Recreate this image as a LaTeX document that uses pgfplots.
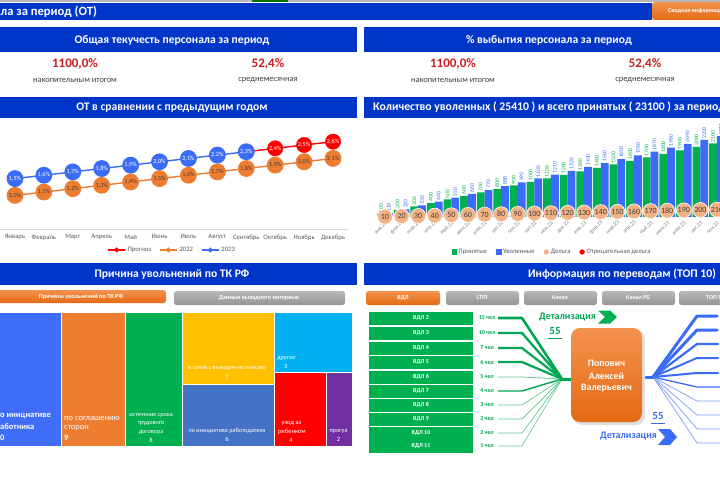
\documentclass[border=0pt]{standalone}
\usepackage{pgfplots}
\pgfplotsset{compat=1.18}
\usepackage{fontspec}
\setmainfont{Carlito}
\newcommand\fs[1]{\fontsize{#1}{#1}\selectfont}
\definecolor{hdrblue}{HTML}{0036C8}
\definecolor{cblue}{HTML}{3B6CF8}
\definecolor{cbluel}{HTML}{7D9BFA}
\definecolor{corange}{HTML}{ED7D31}
\definecolor{cred}{HTML}{FF0000}
\definecolor{cgreen}{HTML}{00B050}
\definecolor{cgreenD}{HTML}{00A651}
\definecolor{cgreenL}{HTML}{5CCB8F}
\definecolor{cpeach}{HTML}{F4B183}
\definecolor{valred}{HTML}{C81E1E}
\definecolor{tmblue}{HTML}{3F6DF7}
\definecolor{tmsteel}{HTML}{4472C4}
\definecolor{tmyellow}{HTML}{FFC000}
\definecolor{tmlblue}{HTML}{00B0F0}
\definecolor{tmpurple}{HTML}{7030A0}
\definecolor{txtgray}{HTML}{595959}
\definecolor{txtdark}{HTML}{404040}
\definecolor{orT}{HTML}{F4924E}
\definecolor{orB}{HTML}{E46A12}
\definecolor{grT}{HTML}{B8B8B8}
\definecolor{grB}{HTML}{959595}
\begin{document}
\begin{tikzpicture}[x=1pt,y=1pt]
\begin{scope}
\clip (0,0) rectangle (720,480);
\fill[white] (0,0) rectangle (720,480);
% ---------- shaded buttons (unflipped coordinates) ----------
\shade[top color=orT, bottom color=orB, rounded corners=3pt] (652,460) rectangle (740,478);
\shade[top color=orT, bottom color=orB, rounded corners=2.5pt] (-6,177) rectangle (166,190);
\shade[top color=grT, bottom color=grB, rounded corners=2.5pt] (174,175) rectangle (345,189);
\shade[top color=orT, bottom color=orB, rounded corners=2.5pt] (366,175) rectangle (440,189);
\shade[top color=grT, bottom color=grB, rounded corners=2.5pt] (446,175) rectangle (519,189);
\shade[top color=grT, bottom color=grB, rounded corners=2.5pt] (524,175) rectangle (597,189);
\shade[top color=grT, bottom color=grB, rounded corners=2.5pt] (602,175) rectangle (675,189);
\shade[top color=grT, bottom color=grB, rounded corners=2.5pt] (679,175) rectangle (740,189);
\begin{scope}[yshift=480pt,yscale=-1]
 \fill[gray!55] (0,0) rectangle (720,2.5);
 \fill[green!45!black] (252,0) rectangle (288,2.5);
 \fill[hdrblue] (0,3) rectangle (652,20);
 \node[anchor=west,text=white,font=\bfseries\fs{12.6},inner sep=0] at (0.5,11.5) {ла за период (ОТ)};
 \node[anchor=west,text=white,font=\bfseries\fs{6},inner sep=0] at (668,11) {Сводная информация};
 \fill[hdrblue] (0,27) rectangle (357,52);
 \fill[hdrblue] (364,27) rectangle (720,52);
 \node[text=white,font=\bfseries\fs{11.6}] at (172,40) {Общая текучесть персонала за период};
 \node[text=white,font=\bfseries\fs{11.6}] at (549,40) {\% выбытия персонала за период};
 \node[text=valred,font=\bfseries\fs{13}] at (75,64) {1100,0\%};
 \node[text=txtdark,font=\fs{8.4}] at (75,80) {накопительным итогом};
 \node[text=valred,font=\bfseries\fs{13}] at (268,64) {52,4\%};
 \node[text=txtdark,font=\fs{8.4}] at (268,80) {среднемесячная};
 \node[text=valred,font=\bfseries\fs{13}] at (453,64) {1100,0\%};
 \node[text=txtdark,font=\fs{8.4}] at (453,80) {накопительным итогом};
 \node[text=valred,font=\bfseries\fs{13}] at (645,64) {52,4\%};
 \node[text=txtdark,font=\fs{8.4}] at (645,80) {среднемесячная};
 \fill[hdrblue] (0,97) rectangle (357,118);
 \fill[hdrblue] (364,97) rectangle (720,118);
 \node[text=white,font=\bfseries\fs{11.6}] at (172,107.5) {ОТ в сравнении с предыдущим годом};
 \node[anchor=west,text=white,font=\bfseries\fs{11.7},inner sep=0] at (373,107.5) {Количество уволенных ( 25410 ) и всего принятых ( 23100 ) за период};
 \fill[hdrblue] (0,263) rectangle (357,285);
 \fill[hdrblue] (364,263) rectangle (720,285);
 \node[text=white,font=\bfseries\fs{11.6}] at (172,274) {Причина увольнений по ТК РФ};
 \node[text=white,font=\bfseries\fs{11.7}] at (622,274) {Информация по переводам (ТОП 10)};
 \node[text=white,font=\bfseries\fs{6.2}] at (81,296.5) {Причины увольнений по ТК РФ};
 \node[text=white,font=\bfseries\fs{6.2}] at (259,298) {Данные выходного интервью};
 \node[text=white,font=\bfseries\fs{6}] at (403,298) {ВДЛ};
 \node[text=white,font=\bfseries\fs{6}] at (482,298) {СПП};
 \node[text=white,font=\bfseries\fs{6}] at (560,298) {Канал};
 \node[text=white,font=\bfseries\fs{6}] at (638,298) {Канал РБ};
 \node[anchor=west,text=white,font=\bfseries\fs{6},inner sep=0] at (706,298) {ТОП 10};
 \foreach \yy/\nm/\vv in {318/2/15,333/3/10,348/4/7,362/5/6,377/6/5,391/7/4,405/8/3,419/9/2,433/10/2,446/11/1}{
   \fill[cgreen] (369,\yy-6.5) rectangle (473,\yy+6.5);
   \node[text=white,font=\bfseries\fs{6}] at (421,\yy) {ВДЛ \nm};
   \node[text=cgreenD,font=\bfseries\fs{6}] at (487,\yy) {\vv\ чел};
 }
\end{scope}
% ---------- line chart ----------
\begin{axis}[at={(0.5pt,251pt)}, anchor=south west, scale only axis, width=347pt, height=100.8pt,
 xmin=-0.5, xmax=11.5, ymin=0, ymax=3,
 axis x line*=bottom, axis y line=none,
 x axis line style={draw=black!15, line width=0.7pt, -},
 xtick={0,...,11},
 xticklabels={Январь,Февраль,Март,Апрель,Май,Июнь,Июль,Август,Сентябрь,Октябрь,Ноябрь,Декабрь},
 major tick length=0pt,
 xticklabel style={font=\fs{6.7}, text=txtgray, yshift=-2pt},
 clip=false,
 legend style={at={(0.495,-0.208)}, anchor=center, draw=none, fill=none, font=\fs{6.7}, text=txtgray, legend columns=-1, /tikz/every even column/.append style={column sep=6pt}},
 legend cell align=left]
\addplot[cred, line width=1.4pt, forget plot] coordinates {(8,2.3) (9,2.4) (10,2.5) (11,2.6)};
\addplot[cred, only marks, mark=*, mark size=7.7pt, mark options={draw=none, fill=cred}, forget plot,
 nodes near coords, point meta=explicit symbolic,
 every node near coord/.append style={anchor=center, text=white, font=\fs{6.2}}]
 coordinates {(9,2.4) [2,4\%] (10,2.5) [2,5\%] (11,2.6) [2,6\%]};
\addplot[corange, line width=1.4pt, mark=*, mark size=7.7pt, mark options={draw=none, fill=corange}, forget plot,
 nodes near coords, point meta=explicit symbolic,
 every node near coord/.append style={anchor=center, text=txtdark, font=\fs{6.2}}]
 coordinates {(0,1.0) [1,0\%] (1,1.1) [1,1\%] (2,1.2) [1,2\%] (3,1.3) [1,3\%] (4,1.4) [1,4\%] (5,1.5) [1,5\%] (6,1.6) [1,6\%] (7,1.7) [1,7\%] (8,1.8) [1,8\%] (9,1.9) [1,9\%] (10,2.0) [2,0\%] (11,2.1) [2,1\%]};
\addplot[cblue, line width=1.4pt, mark=*, mark size=7.7pt, mark options={draw=none, fill=cblue}, forget plot,
 nodes near coords, point meta=explicit symbolic,
 every node near coord/.append style={anchor=center, text=white, font=\fs{6.2}}]
 coordinates {(0,1.5) [1,5\%] (1,1.6) [1,6\%] (2,1.7) [1,7\%] (3,1.8) [1,8\%] (4,1.9) [1,9\%] (5,2.0) [2,0\%] (6,2.1) [2,1\%] (7,2.2) [2,2\%] (8,2.3) [2,3\%]};
\addlegendimage{cred, line width=1.2pt, mark=*, mark size=1.8pt}
\addlegendentry{Прогноз}
\addlegendimage{corange, line width=1.2pt, mark=*, mark size=1.8pt}
\addlegendentry{2022}
\addlegendimage{cblue, line width=1.2pt, mark=*, mark size=1.8pt}
\addlegendentry{2023}
\end{axis}
% ---------- bar chart ----------
\begin{axis}[at={(371.7pt,263pt)}, anchor=south west, scale only axis, width=358.56pt, height=98pt,
 xmin=-0.8, xmax=20.8, ymin=0, ymax=2800,
 ybar=0pt, bar width=7.8pt,
 axis x line*=bottom, axis y line=none, x axis line style={draw=none},
 xtick={0,...,20},
 xticklabels={янв.22,фев.22,мар.22,апр.22,май.22,июн.22,июл.22,авг.22,сен.22,окт.22,ноя.22,дек.22,янв.23,фев.23,мар.23,апр.23,май.23,июн.23,июл.23,авг.23,сен.23},
 major tick length=0pt,
 xticklabel style={font=\fs{5.6}, text=gray, xshift=2pt, yshift=-4pt, rotate=45, anchor=east, inner sep=1pt},
 clip=false,
 nodes near coords,
 every node near coord/.append style={rotate=90, anchor=west, font=\fs{5.6}, inner sep=1.2pt},
 /pgf/number format/assume math mode=true, /pgf/number format/1000 sep={}]
\addplot[fill=cgreen, draw=none, every node near coord/.append style={text=cgreen}] coordinates {
 (0,100) (1,200) (2,300) (3,400) (4,500) (5,600) (6,700) (7,800) (8,900) (9,1000) (10,1100)
 (11,1200) (12,1300) (13,1400) (14,1500) (15,1600) (16,1700) (17,1800) (18,1900) (19,2000) (20,2100)};
\addplot[fill=cblue, draw=none, every node near coord/.append style={text=cblue}] coordinates {
 (0,110) (1,220) (2,330) (3,440) (4,550) (5,660) (6,770) (7,880) (8,990) (9,1100) (10,1210)
 (11,1320) (12,1430) (13,1540) (14,1650) (15,1760) (16,1870) (17,1980) (18,2090) (19,2200) (20,2310)};
\end{axis}
\begin{axis}[at={(371.7pt,263pt)}, anchor=south west, scale only axis, width=358.56pt, height=98pt,
 xmin=-0.8, xmax=20.8, ymin=0, ymax=2800, hide axis, clip=false,
 legend style={at={(0.503,-0.357)}, anchor=center, draw=none, fill=none, font=\fs{6.7}, text=txtgray, legend columns=-1, /tikz/every even column/.append style={column sep=7pt}},
 legend cell align=left,
 /pgf/number format/assume math mode=true]
\addplot[only marks, mark=*, mark size=7.5pt, mark options={fill=cpeach, draw=white, line width=0.6pt}, forget plot,
 nodes near coords, every node near coord/.append style={anchor=center, font=\fs{8}, text=txtdark}] coordinates {
 (0,10) (1,20) (2,30) (3,40) (4,50) (5,60) (6,70) (7,80) (8,90) (9,100) (10,110)
 (11,120) (12,130) (13,140) (14,150) (15,160) (16,170) (17,180) (18,190) (19,200) (20,210)};
\addlegendimage{legend image code/.code={\fill[cgreen] (0pt,-2.3pt) rectangle (4.6pt,2.3pt);}}
\addlegendentry{Принятые}
\addlegendimage{legend image code/.code={\fill[cblue] (0pt,-2.3pt) rectangle (4.6pt,2.3pt);}}
\addlegendentry{Уволенные}
\addlegendimage{legend image code/.code={\fill[cpeach] (2.3pt,0pt) circle (2.4pt);}}
\addlegendentry{Дельта}
\addlegendimage{legend image code/.code={\fill[cred] (2.3pt,0pt) circle (2.4pt);}}
\addlegendentry{Отрицательная дельта}
\end{axis}
% ---------- treemap ----------
\begin{axis}[at={(0pt,34pt)}, anchor=south west, scale only axis, width=352pt, height=134pt,
 xmin=0, xmax=352, ymin=-446, ymax=-312, hide axis, clip=false]
\addplot[fill=tmblue, draw=white, line width=1pt] coordinates {(-2,-312) (61,-312) (61,-446) (-2,-446)} --cycle;
\addplot[fill=corange, draw=white, line width=1pt] coordinates {(61,-312) (125,-312) (125,-446) (61,-446)} --cycle;
\addplot[fill=cgreen, draw=white, line width=1pt] coordinates {(125,-312) (182,-312) (182,-446) (125,-446)} --cycle;
\addplot[fill=tmyellow, draw=white, line width=1pt] coordinates {(182,-312) (274,-312) (274,-384) (182,-384)} --cycle;
\addplot[fill=tmsteel, draw=white, line width=1pt] coordinates {(182,-384) (274,-384) (274,-446) (182,-446)} --cycle;
\addplot[fill=tmlblue, draw=white, line width=1pt] coordinates {(274,-312) (352,-312) (352,-372) (274,-372)} --cycle;
\addplot[fill=cred, draw=white, line width=1pt] coordinates {(274,-372) (326,-372) (326,-446) (274,-446)} --cycle;
\addplot[fill=tmpurple, draw=white, line width=1pt] coordinates {(326,-372) (352,-372) (352,-446) (326,-446)} --cycle;
\end{axis}
% ---------- transfer diagram lines ----------
\begin{axis}[at={(360pt,20pt)}, anchor=south west, scale only axis, width=360pt, height=155pt,
 xmin=360, xmax=720, ymin=-460, ymax=-305, hide axis, clip=false]
\addplot[cgreenD, line width=2.6pt, line join=round] coordinates {(498,-318) (522,-318) (562,-379)};
\addplot[cgreenD, line width=2.3pt, line join=round] coordinates {(498,-333) (522,-333) (562,-379)};
\addplot[cgreenD, line width=2.2pt, line join=round] coordinates {(498,-348) (522,-348) (562,-379)};
\addplot[cgreenD, line width=2.2pt, line join=round] coordinates {(498,-362) (522,-362) (562,-379)};
\addplot[cgreenL, line width=0.8pt, line join=round] coordinates {(498,-377) (522,-377) (562,-379)};
\addplot[cgreenD, line width=1.4pt, line join=round] coordinates {(498,-391) (522,-391) (562,-379)};
\addplot[cgreenL, line width=0.7pt, line join=round] coordinates {(498,-405) (522,-405) (562,-379)};
\addplot[cgreenL, line width=0.7pt, line join=round] coordinates {(498,-419) (522,-419) (562,-379)};
\addplot[cgreenL, line width=0.7pt, line join=round] coordinates {(498,-433) (522,-433) (562,-379)};
\addplot[cgreenL, line width=0.6pt, line join=round] coordinates {(498,-446) (522,-446) (562,-379)};
\addplot[cgreenD, line width=3pt] coordinates {(560,-379) (573,-379)};
\addplot[cblue, line width=3pt, line join=round, line cap=round] coordinates {(653,-377) (697,-316) (717,-316)};
\addplot[cblue, line width=3pt, line join=round, line cap=round] coordinates {(653,-377) (697,-330) (717,-330)};
\addplot[cblue, line width=2.2pt, line join=round, line cap=round] coordinates {(653,-377) (697,-344) (718,-344)};
\addplot[cblue, line width=2pt, line join=round, line cap=round] coordinates {(653,-377) (697,-358) (718,-358)};
\addplot[cblue, line width=2pt, line join=round, line cap=round] coordinates {(653,-377) (697,-373) (718,-373)};
\addplot[cblue, line width=1.3pt, line join=round] coordinates {(653,-377) (697,-387) (722,-387)};
\addplot[cbluel, line width=0.7pt, line join=round] coordinates {(653,-377) (697,-401) (722,-401)};
\addplot[cbluel, line width=0.7pt, line join=round] coordinates {(653,-377) (697,-415) (722,-415)};
\addplot[cbluel, line width=0.7pt, line join=round] coordinates {(653,-377) (697,-429) (722,-429)};
\addplot[cbluel, line width=0.7pt, line join=round] coordinates {(653,-377) (697,-443) (722,-443)};
\addplot[cblue, line width=3pt] coordinates {(640,-377) (654,-377)};
\end{axis}
% ---------- orange box ----------
\fill[black!12, rounded corners=9pt] (573,55) rectangle (645,150);
\shade[top color=orT, bottom color=orB, rounded corners=9pt] (571,58) rectangle (642,152);
\begin{scope}[yshift=480pt,yscale=-1]
 \node[text=white,font=\bfseries\fs{9.8}] at (606.5,363) {Попович};
 \node[text=white,font=\bfseries\fs{9.8}] at (606.5,376) {Алексей};
 \node[text=white,font=\bfseries\fs{9.8}] at (606.5,388.5) {Валерьевич};
 \node[text=cgreenD,font=\bfseries\fs{10}] at (567.5,317) {Детализация};
 \fill[cgreen] (598,310.5) -- (610,310.5) -- (617,317) -- (610,323.5) -- (598,323.5) -- (605,317) -- cycle;
 \node[text=cgreenD,font=\bfseries\fs{11}] at (555,331) {55};
 \draw[cgreenD, line width=0.8pt] (548,338) -- (562,338);
 \node[text=cblue,font=\bfseries\fs{11}] at (658,416) {55};
 \draw[cblue, line width=0.8pt] (651,423) -- (665,423);
 \node[text=cblue,font=\bfseries\fs{10}] at (628.5,436.5) {Детализация};
 \fill[cblue] (658,429) -- (670,429) -- (677,437) -- (670,445) -- (658,445) -- (665,437) -- cycle;
 \node[anchor=west,text=white,font=\bfseries\fs{8.5},inner sep=0] at (-4.6,416) {по инициативе};
 \node[anchor=west,text=white,font=\bfseries\fs{8.5},inner sep=0] at (-4.6,427) {работника};
 \node[anchor=west,text=white,font=\bfseries\fs{8.5},inner sep=0] at (-4.3,437.5) {10};
 \node[anchor=west,text=white,font=\fs{8.5},inner sep=0] at (64,418) {по соглашению};
 \node[anchor=west,text=white,font=\fs{8.5},inner sep=0] at (64,428) {сторон};
 \node[anchor=west,text=white,font=\bfseries\fs{8.5},inner sep=0] at (64,437.5) {9};
 \node[text=white,font=\fs{6.2},inner sep=0] at (151,415) {истечение срока};
 \node[text=white,font=\fs{6.2},inner sep=0] at (151,423.5) {трудового};
 \node[text=white,font=\fs{6.2},inner sep=0] at (151,432) {договора};
 \node[text=white,font=\fs{6.5},inner sep=0] at (151,440) {8};
 \node[text=white,font=\fs{6.2},inner sep=0] at (227,369) {в связи с выходом на пенсию};
 \node[text=white,font=\fs{6.5},inner sep=0] at (227,377.5) {7};
 \node[text=white,font=\fs{6.2},inner sep=0] at (227,431) {по инициативе работодателя};
 \node[text=white,font=\fs{6.5},inner sep=0] at (227,439.5) {6};
 \node[anchor=west,text=white,font=\fs{6.3},inner sep=0] at (277,358) {другое};
 \node[text=white,font=\fs{6.5},inner sep=0] at (286,366) {5};
 \node[text=white,font=\fs{6.5},inner sep=0] at (291.5,423) {уход за};
 \node[text=white,font=\fs{6.5},inner sep=0] at (292,431.5) {ребенком};
 \node[text=white,font=\fs{6.5},inner sep=0] at (291,440) {4};
 \node[text=white,font=\fs{6.3},inner sep=0] at (338.5,431) {прогул};
 \node[text=white,font=\fs{6.5},inner sep=0] at (338.5,439.5) {2};
\end{scope}
\end{scope}
\pgfresetboundingbox
\useasboundingbox (0,0) rectangle (720,480);
\end{tikzpicture}
\end{document}
